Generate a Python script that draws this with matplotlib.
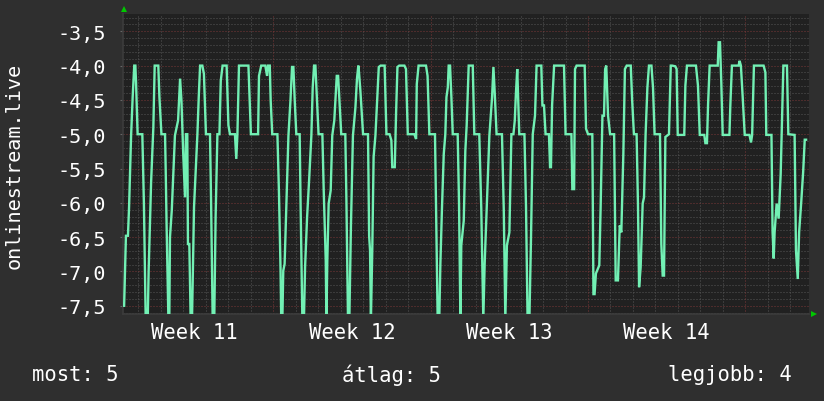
import matplotlib
matplotlib.use("Agg")
import matplotlib.pyplot as plt
from matplotlib.lines import Line2D

# time in days from the left edge of the graph, value = negative rank
day = [
    0.05, 0.09, 0.13, 0.22, 0.27, 0.36, 0.43, 0.50, 0.55, 0.58, 0.65, 0.86, 0.93, 1.01, 1.10,
    1.14, 1.25, 1.35, 1.41, 1.57, 1.62, 1.71, 1.87, 1.90, 1.94, 2.02, 2.06, 2.09, 2.17, 2.31,
    2.45, 2.54, 2.60, 2.68, 2.76, 2.80, 2.86, 2.89, 2.95, 3.01, 3.07, 3.16, 3.31, 3.37, 3.43,
    3.53, 3.60, 3.69, 3.87, 3.92, 3.99, 4.06, 4.12, 4.20, 4.29, 4.35, 4.43, 4.61, 4.69, 4.76,
    4.98, 5.04, 5.09, 5.16, 5.58, 5.69, 6.01,
    6.05, 6.15, 6.33, 6.41, 6.45, 6.53, 6.57, 6.64, 6.87, 6.94, 7.01, 7.04, 7.09, 7.13, 7.19,
    7.27, 7.36, 7.45, 7.52, 7.58, 7.64, 7.71, 7.86, 7.90, 7.98, 8.05, 8.10, 8.19, 8.28, 8.38,
    8.44, 8.50, 8.56, 8.63, 8.70, 8.87, 8.93, 9.02, 9.05, 9.09, 9.15, 9.24, 9.31, 9.40, 9.46,
    9.51, 9.57, 9.62, 9.71, 9.89, 9.94, 9.98, 10.01, 10.07, 10.14, 10.23, 10.34, 10.41, 10.47,
    10.50, 10.56, 10.68, 10.90, 10.95, 10.99, 11.03, 11.09, 11.15, 11.23, 11.29, 11.38, 11.46,
    11.64, 11.72, 11.86, 11.94, 11.98, 12.09,
    12.15, 12.21, 12.29, 12.52, 12.59, 12.67, 12.96, 13.04, 13.07, 13.15, 13.48, 13.55, 13.63,
    13.88, 13.93, 14.00, 14.07, 14.12, 14.19, 14.27, 14.34, 14.39, 14.45, 14.49, 14.55, 14.61,
    14.67, 14.89, 14.95, 15.01, 15.05, 15.16, 15.23, 15.29, 15.38, 15.56, 15.63, 15.85, 15.94,
    16.03, 16.09, 16.18, 16.30, 16.42, 16.48, 16.54, 16.62, 16.86, 16.94, 17.01, 17.08, 17.19,
    17.28, 17.37, 17.43, 17.48, 17.54, 17.63, 17.86, 17.93, 18.00, 18.08, 18.15, 18.23, 18.33,
    18.40, 18.61, 18.66, 18.73, 18.80, 18.95, 19.00, 19.04, 19.09, 19.18, 19.62, 19.69, 19.95,
    19.99, 20.07, 20.11, 20.18, 20.54, 20.60, 20.69, 20.88, 20.93, 20.98, 21.04, 21.19, 21.25,
    21.33, 21.40, 21.45, 21.50, 21.58, 21.67, 21.85, 21.92, 22.02, 22.10, 22.17, 22.26, 22.33,
    22.41, 22.59, 22.65, 22.73, 22.85, 22.91, 22.96, 23.03, 23.12, 23.18, 23.25, 23.33, 23.40,
    23.51, 23.58, 23.65, 23.89, 23.95, 24.01, 24.07, 24.13, 24.29, 24.37,
    24.43, 24.57, 24.63, 24.68, 24.97, 25.02, 25.09, 25.49, 25.58, 25.66, 25.86, 25.91, 25.98,
    26.03, 26.10, 26.46, 26.50, 26.56, 26.62, 26.68, 26.98, 27.02, 27.09, 27.39, 27.43, 27.49,
    27.57, 27.66, 27.87, 27.94, 27.99, 28.07, 28.50, 28.58, 28.62, 28.85, 28.90, 28.95, 28.99,
    29.08, 29.17, 29.26, 29.38, 29.54, 29.60, 29.88, 29.94, 30.02, 30.08, 30.17, 30.26, 30.33,
    30.39,
]
rank = [
    -7.50, -7.00, -6.48, -6.48, -6.06, -5.02, -4.46, -4.00, -4.00, -4.24, -5.00, -5.00, -6.01, -7.70, -7.70,
    -7.00, -5.70, -4.90, -4.00, -4.00, -4.46, -5.00, -5.00, -5.53, -6.33, -7.70, -7.70, -6.50, -6.11, -5.02,
    -4.80, -4.19, -4.51, -5.29, -5.92, -5.00, -5.00, -6.60, -6.60, -7.70, -7.70, -6.06, -5.00, -4.46, -4.00,
    -4.00, -4.12, -5.00, -5.00, -6.01, -7.70, -7.70, -6.21, -5.00, -5.00, -4.22, -4.00, -4.00, -4.87, -5.00,
    -5.00, -5.36, -5.00, -4.00, -4.00, -5.00, -5.00,
    -4.15, -4.00, -4.00, -4.15, -4.00, -4.00, -4.51, -5.00, -5.00, -5.87, -6.99, -7.70, -7.70, -6.99, -6.89,
    -6.01, -5.02, -4.51, -4.02, -4.02, -4.51, -5.00, -5.00, -6.01, -7.70, -7.70, -6.94, -6.21, -5.67, -5.02,
    -4.32, -4.00, -4.00, -4.51, -5.00, -5.00, -5.82, -6.84, -7.70, -6.84, -6.01, -5.82, -5.02, -4.80, -4.46,
    -4.15, -4.15, -4.46, -5.00, -5.00, -5.97, -6.94, -7.70, -7.70, -6.35, -5.02, -4.61, -4.19, -4.00,
    -4.10, -4.36, -5.00, -5.00, -6.48, -6.69, -7.70, -6.69, -5.33, -5.02, -4.61, -4.02, -4.00,
    -4.00, -5.00, -5.00, -5.09, -5.48, -5.48,
    -4.68, -4.02, -4.00, -4.00, -4.05, -5.00, -5.00, -5.07, -4.27, -4.00, -4.00, -4.15, -5.00,
    -5.00, -6.09, -7.70, -7.70, -6.89, -6.09, -5.29, -5.00, -4.46, -4.32, -4.00, -4.00, -4.46,
    -5.00, -5.00, -6.01, -7.70, -6.62, -6.26, -5.24, -4.87, -4.00, -4.00, -5.00, -5.00, -6.09,
    -7.70, -6.89, -6.09, -5.02, -4.46, -4.02, -4.41, -5.00, -5.00, -6.09, -7.70, -6.62, -6.43,
    -5.00, -5.00, -4.80, -4.41, -4.05, -5.00, -5.00, -6.06, -7.70, -7.70, -6.55, -5.00, -4.73,
    -4.00, -4.00, -4.58, -4.58, -5.00, -5.00, -5.48, -5.48, -4.58, -4.00, -4.00, -5.00, -5.00,
    -5.80, -5.80, -4.05, -4.00, -4.00, -4.92, -5.00, -5.00, -7.33, -7.33, -7.03, -6.91, -6.06,
    -4.73, -4.73, -4.05, -4.00, -4.73, -5.00, -5.00, -7.13, -7.13, -6.33, -6.43, -5.29, -4.05,
    -4.00, -4.00, -4.49, -5.00, -5.00, -6.01, -7.23, -6.94, -6.01, -5.92, -5.00, -4.32, -4.00,
    -4.00, -4.32, -5.00, -5.00, -6.60, -7.06, -7.06, -5.04, -5.00, -4.00,
    -4.00, -4.01, -4.05, -5.01, -5.01, -4.29, -4.00, -4.00, -4.29, -5.01, -5.01, -5.13, -5.13,
    -4.56, -4.00, -4.00, -3.66, -3.66, -4.27, -5.01, -5.01, -4.58, -4.00, -4.00, -3.93, -4.00,
    -4.46, -5.01, -5.01, -5.12, -5.01, -4.00, -4.00, -4.10, -5.01, -5.01, -6.43, -6.81, -6.43,
    -6.01, -6.23, -5.58, -4.00, -4.00, -5.00, -5.01, -6.69, -7.11, -6.43, -6.01, -5.55, -5.08,
    -5.08,
]

week_start = [6.687, 13.687, 20.687, 27.687]
week_labels = ["Week 11", "Week 12", "Week 13", "Week 14"]
y_ticks = [-3.5, -4.0, -4.5, -5.0, -5.5, -6.0, -6.5, -7.0, -7.5]
y_tick_labels = ["-3,5", "-4,0", "-4,5", "-5,0", "-5,5", "-6,0", "-6,5", "-7,0", "-7,5"]
legend = [("most: 5", 32, "left"), ("átlag: 5", 391, "center"), ("legjobb: 4", 792, "right")]

W, H = 824, 402
x_max = 30.52
y_min, y_max = -7.62, -3.248

canvas = "#2f2f2f"
plot_bg = "#212121"
line_col = "#72f0b4"
minor_col = "#555555"
major_col = "#7a3838"
mono = "DejaVu Sans Mono"

fig = plt.figure(figsize=(W / 100, H / 100), dpi=100, facecolor=canvas)
ax = fig.add_axes([123 / W, 87 / H, 686 / W, 300 / H], facecolor=plot_bg)
ax.set_xlim(0, x_max)
ax.set_ylim(y_min, y_max)

# minor grid: every 0.1 and every day
dot = (0, (1, 2))
k = 0
while -3.3 - 0.1 * k > y_min:
    v = round(-3.3 - 0.1 * k, 2)
    if abs(v * 2 - round(v * 2)) > 1e-6:
        ax.axhline(v, color=minor_col, lw=0.72, ls=dot, zorder=1)
    k += 1
d = week_start[0] - 6
while d < x_max:
    if min(abs(d - w) for w in week_start) > 1e-6:
        ax.axvline(d, color=minor_col, lw=0.72, ls=dot, zorder=1)
    d += 1
# major grid
for v in y_ticks:
    ax.axhline(v, color=major_col, lw=0.72, ls=dot, zorder=1)
for w in week_start:
    ax.axvline(w, color=major_col, lw=0.72, ls=dot, zorder=1)

ax.plot(day, rank, color=line_col, lw=1.7, zorder=3, solid_joinstyle="miter")

for s in ax.spines.values():
    s.set_visible(False)
ax.spines["left"].set_visible(True)
ax.spines["bottom"].set_visible(True)
ax.spines["left"].set_color("#3c3c3c")
ax.spines["bottom"].set_color("#3c3c3c")
ax.spines["left"].set_linewidth(1.2)
ax.spines["bottom"].set_linewidth(1.2)

ax.set_yticks(y_ticks)
ax.set_yticklabels(y_tick_labels, fontfamily=mono, fontsize=14.5, color="white")
ax.tick_params(axis="y", length=2, color="#666666", pad=10)
ax.set_xticks([w - 3.5 for w in week_start])
ax.set_xticklabels(week_labels, fontfamily=mono, fontsize=14.8, color="white")
ax.tick_params(axis="x", length=0, pad=6)

fig.text(14 / W, 1 - 166 / H, "onlinestream.live", rotation=90, ha="center", va="center",
         fontfamily=mono, fontsize=14.5, color="white")
for txt, px, ha in legend:
    fig.text(px / W, 1 - 375 / H, txt, ha=ha, va="center",
             fontfamily=mono, fontsize=14.8, color="white")

# axis arrows
fig.add_artist(Line2D([124 / W], [1 - 10 / H], marker="^", ms=5, color="#00c800", mew=0,
                      transform=fig.transFigure))
fig.add_artist(Line2D([814 / W], [1 - 315 / H], marker=">", ms=5, color="#00c800", mew=0,
                      transform=fig.transFigure))

fig.savefig("out.png", dpi=100, facecolor=canvas)
